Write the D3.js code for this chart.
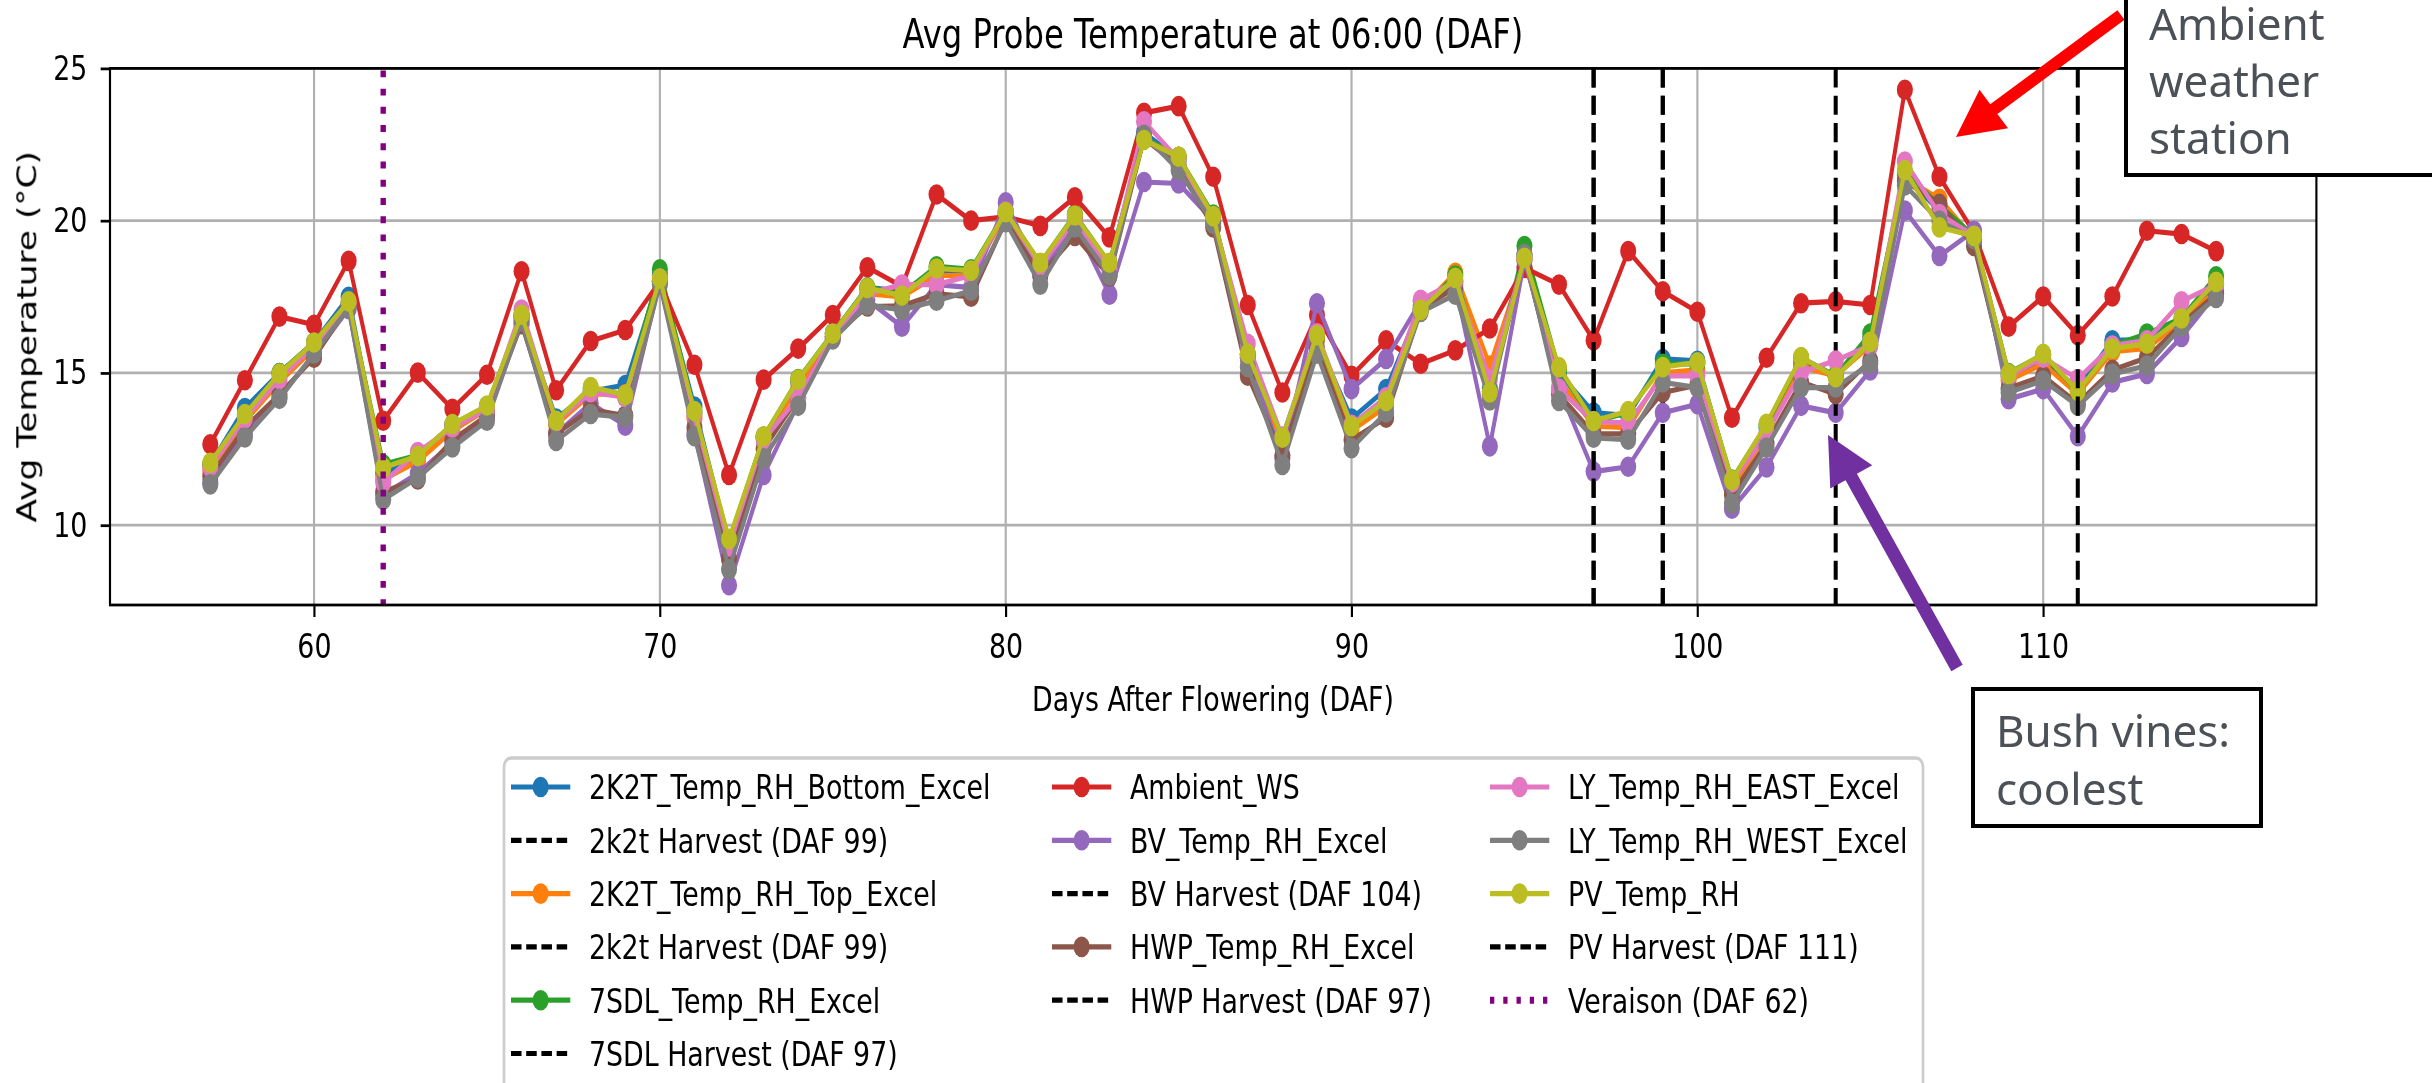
<!DOCTYPE html>
<html>
<head>
<meta charset="utf-8">
<script src="https://cdn.jsdelivr.net/npm/d3@7/dist/d3.min.js"></script>
<style>
  html, body { margin: 0; padding: 0; background: #ffffff; overflow: hidden; }
  svg { display: block; }
</style>
</head>
<body>
<svg id="chart" width="2432" height="1083"></svg>
<script>
// ---- data: average probe temperature at 06:00 by days after flowering ----
const days = [57, 58, 59, 60, 61, 62, 63, 64, 65, 66, 67, 68, 69, 70, 71, 72, 73, 74, 75, 76,
  77, 78, 79, 80, 81, 82, 83, 84, 85, 86, 87, 88, 89, 90, 91, 92, 93, 94, 95, 96,
  97, 98, 99, 100, 101, 102, 103, 104, 105, 106, 107, 108, 109, 110, 111, 112, 113, 114, 115];

const k2tBottom = [12.0, 13.85, 15.0, 16.0, 17.5, 11.7, 12.2, 13.3, 13.9, 16.9, 13.5, 14.4, 14.6, 18.2, 13.9, 9.4, 12.9, 14.7, 16.3, 17.8,
  17.7, 18.3, 18.3, 20.2, 18.6, 20.1, 18.6, 22.9, 22.0, 20.1, 15.6, 12.8, 16.1, 13.5, 14.47, 17.2, 18.0, 14.5, 18.9, 15.0,
  13.7, 13.6, 15.46, 15.4, 11.4, 13.2, 15.3, 14.9, 16.1, 21.5, 20.3, 19.4, 14.9, 15.4, 14.5, 16.07, 16.1, 16.7, 17.9];
const k2tTop = [11.8, 13.4, 14.7, 15.8, 17.2, 11.5, 12.1, 13.1, 13.8, 16.8, 13.3, 14.3, 14.3, 18.0, 13.5, 9.3, 12.9, 14.5, 16.2, 17.6,
  17.5, 18.2, 18.2, 20.2, 18.5, 20.0, 18.5, 22.7, 22.1, 20.0, 15.5, 12.7, 16.1, 13.1, 13.9, 17.1, 18.29, 15.24, 18.7, 14.8,
  13.25, 13.2, 15.0, 15.1, 11.2, 13.0, 15.2, 14.9, 15.9, 21.4, 20.72, 19.4, 14.75, 15.3, 14.3, 15.7, 15.8, 16.7, 17.7];
const sdl7 = [12.0, 13.6, 15.0, 16.0, 17.3, 12.0, 12.3, 13.3, 13.9, 16.9, 13.4, 14.5, 14.2, 18.4, 13.7, 9.5, 12.9, 14.8, 16.3, 17.8,
  17.6, 18.5, 18.4, 20.3, 18.6, 20.2, 18.6, 22.7, 22.1, 20.2, 15.6, 12.9, 16.2, 13.3, 14.1, 17.1, 18.2, 14.4, 19.17, 15.1,
  13.4, 13.7, 15.3, 15.3, 11.5, 13.3, 15.5, 14.9, 16.29, 21.6, 20.5, 19.5, 15.0, 15.6, 14.4, 15.9, 16.29, 16.8, 18.17];
const ambientWS = [12.66, 14.76, 16.85, 16.58, 18.68, 13.43, 15.01, 13.82, 14.94, 18.34, 14.43, 16.05, 16.41, 18.0, 15.27, 11.65, 14.78, 15.8, 16.9, 18.47,
  17.84, 20.86, 20.0, 20.13, 19.83, 20.77, 19.45, 23.54, 23.76, 21.44, 17.23, 14.36, 16.9, 14.91, 16.07, 15.3, 15.74, 16.46, 18.45, 17.9,
  16.07, 19.0, 17.68, 17.01, 13.53, 15.5, 17.29, 17.35, 17.23, 24.3, 21.44, 19.61, 16.52, 17.51, 16.24, 17.51, 19.67, 19.56, 19.0];
const bushVines = [11.4, 13.0, 14.2, 15.6, 17.1, 11.0, 11.7, 12.7, 13.5, 16.8, 13.0, 14.0, 13.27, 18.0, 13.0, 8.03, 11.65, 14.0, 16.13, 17.4,
  16.52, 17.9, 17.8, 20.6, 18.2, 19.9, 17.57, 21.27, 21.22, 20.0, 15.5, 12.2, 17.29, 14.47, 15.46, 17.35, 17.9, 12.59, 18.7, 14.5,
  11.76, 11.92, 13.69, 13.97, 10.54, 11.9, 13.92, 13.69, 15.08, 20.33, 18.84, 19.67, 14.14, 14.47, 12.92, 14.69, 14.97, 16.18, 17.6];
const hwp = [11.6, 13.2, 14.3, 15.5, 17.2, 11.1, 11.5, 12.8, 13.6, 16.6, 13.0, 13.8, 13.6, 18.0, 13.2, 8.9, 12.5, 14.2, 16.2, 17.18,
  17.2, 17.6, 17.5, 20.0, 18.2, 19.5, 18.17, 22.7, 21.8, 19.78, 14.91, 12.3, 15.8, 12.8, 13.53, 17.1, 17.8, 14.3, 18.8, 14.3,
  13.0, 13.0, 14.36, 14.6, 11.0, 12.7, 14.7, 14.3, 15.4, 21.3, 20.55, 19.17, 14.5, 14.9, 14.0, 15.1, 15.5, 16.6, 17.6];
const lyEast = [11.9, 13.5, 14.8, 15.9, 17.3, 11.4, 12.4, 13.2, 13.8, 17.08, 13.4, 14.37, 14.2, 18.1, 13.6, 9.3, 12.8, 14.2, 16.2, 17.6,
  17.9, 17.9, 18.2, 20.3, 18.5, 20.0, 18.4, 23.26, 22.0, 20.1, 15.96, 12.9, 16.3, 13.3, 14.2, 17.4, 18.0, 14.8, 18.8, 14.47,
  13.4, 13.36, 14.9, 14.91, 11.4, 13.0, 15.02, 15.41, 15.9, 21.94, 20.22, 19.5, 14.9, 15.5, 14.8, 15.9, 16.07, 17.35, 17.9];
const lyWest = [11.34, 12.88, 14.15, 15.64, 17.13, 10.84, 11.56, 12.55, 13.43, 16.7, 12.77, 13.65, 13.54, 17.9, 12.92, 8.55, 12.2, 13.92, 16.1, 17.23,
  17.07, 17.37, 17.7, 19.95, 17.9, 19.78, 18.2, 22.82, 21.66, 19.9, 15.2, 11.98, 15.63, 12.53, 13.7, 17.0, 17.57, 14.1, 18.9, 14.08,
  12.87, 12.81, 14.69, 14.52, 10.71, 12.55, 14.52, 14.52, 15.3, 21.16, 20.0, 19.39, 14.36, 14.75, 13.92, 14.97, 15.24, 16.52, 17.46];
const pv = [12.05, 13.65, 14.98, 16.0, 17.35, 11.89, 12.27, 13.32, 13.93, 16.91, 13.43, 14.54, 14.28, 18.1, 13.75, 9.55, 12.92, 14.78, 16.29, 17.79,
  17.54, 18.43, 18.36, 20.28, 18.62, 20.17, 18.62, 22.65, 22.1, 20.15, 15.63, 12.87, 16.24, 13.25, 14.08, 17.07, 18.12, 14.36, 18.78, 15.19,
  13.42, 13.75, 15.19, 15.35, 11.48, 13.33, 15.52, 14.86, 16.02, 21.66, 19.78, 19.5, 14.97, 15.63, 14.41, 15.8, 15.96, 16.79, 17.99];

// plotting order (legend order): series and marker lines interleaved
const seriesNames = ["2K2T_Temp_RH_Bottom_Excel", "2k2t Harvest (DAF 99)", "2K2T_Temp_RH_Top_Excel", "2k2t Harvest (DAF 99)",
  "7SDL_Temp_RH_Excel", "7SDL Harvest (DAF 97)", "Ambient_WS", "BV_Temp_RH_Excel", "BV Harvest (DAF 104)",
  "HWP_Temp_RH_Excel", "HWP Harvest (DAF 97)", "LY_Temp_RH_EAST_Excel", "LY_Temp_RH_WEST_Excel", "PV_Temp_RH",
  "PV Harvest (DAF 111)", "Veraison (DAF 62)"];
const seriesValues = [k2tBottom, 99, k2tTop, 99, sdl7, 97, ambientWS, bushVines, 104, hwp, 97, lyEast, lyWest, pv, 111, 62];
const seriesKinds = ["series", "harvest", "series", "harvest", "series", "harvest", "series", "series", "harvest",
  "series", "harvest", "series", "series", "series", "harvest", "veraison"];
const palette = ["#1f77b4", "#000000", "#ff7f0e", "#000000", "#2ca02c", "#000000", "#d62728", "#9467bd", "#000000",
  "#8c564b", "#000000", "#e377c2", "#7f7f7f", "#bcbd22", "#000000", "#800080"];

const xTicks = [60, 70, 80, 90, 100, 110];
const yTicks = [10, 15, 20, 25];

// ---- layout ----
const SX = 0.78;               // the chart is drawn horizontally squeezed
const PT = 3.44;               // pixels per point
const FS = 34.4;               // base font size
const plot = { left: 110 / SX, right: 2316.4 / SX, top: 68.4, bottom: 605 };

const svg = d3.select("#chart");
svg.append("rect").attr("width", 2432).attr("height", 1083).attr("fill", "#ffffff");

// slight softening of the chart body
const defs = svg.append("defs");
defs.append("filter").attr("id", "soft").attr("x", "-2%").attr("y", "-2%").attr("width", "104%").attr("height", "104%")
  .append("feGaussianBlur").attr("stdDeviation", 0.55);

const g = svg.append("g").attr("filter", "url(#soft)")
  .append("g").attr("transform", `scale(${SX},1)`)
  .style("font-family", "'DejaVu Sans', sans-serif");

const x = d3.scaleLinear().domain([54.1, 117.9]).range([plot.left, plot.right]);
const y = d3.scaleLinear().domain([7.38, 25.0]).range([plot.bottom, plot.top]);

// grid
const grid = g.append("g");
grid.selectAll("line.gx").data(xTicks).join("line")
  .attr("x1", d => x(d)).attr("x2", d => x(d))
  .attr("y1", plot.top).attr("y2", plot.bottom)
  .attr("stroke", "#b0b0b0").attr("stroke-width", 0.8 * PT);
grid.selectAll("line.gy").data(yTicks).join("line")
  .attr("x1", plot.left).attr("x2", plot.right)
  .attr("y1", d => y(d)).attr("y2", d => y(d))
  .attr("stroke", "#b0b0b0").attr("stroke-width", 0.8 * PT);

// series and reference lines
const clipId = "plotclip";
g.append("clipPath").attr("id", clipId).append("rect")
  .attr("x", plot.left).attr("y", plot.top)
  .attr("width", plot.right - plot.left).attr("height", plot.bottom - plot.top);
const marks = g.append("g").attr("clip-path", `url(#${clipId})`);

const line = d3.line().x(d => x(d[0])).y(d => y(d[1]));

seriesNames.forEach((name, i) => {
  const kind = seriesKinds[i];
  const col = palette[i];
  if (kind === "series") {
    const pts = days.map((d, j) => [d, seriesValues[i][j]]);
    const s = marks.append("g");
    s.append("path").datum(pts).attr("d", line)
      .attr("fill", "none").attr("stroke", col)
      .attr("stroke-width", 1.5 * PT).attr("stroke-linejoin", "round");
    s.selectAll("circle").data(pts).join("circle")
      .attr("cx", d => x(d[0])).attr("cy", d => y(d[1]))
      .attr("r", 10.3).attr("fill", col);
  } else if (kind === "harvest") {
    marks.append("line")
      .attr("x1", x(seriesValues[i])).attr("x2", x(seriesValues[i]))
      .attr("y1", plot.top).attr("y2", plot.bottom)
      .attr("stroke", col).attr("stroke-width", 1.5 * PT)
      .attr("stroke-dasharray", `${3.7 * 1.5 * PT},${1.6 * 1.5 * PT}`);
  } else {
    marks.append("line")
      .attr("x1", x(seriesValues[i])).attr("x2", x(seriesValues[i]))
      .attr("y1", plot.top + 2).attr("y2", plot.bottom)
      .attr("stroke", col).attr("stroke-width", 2 * PT)
      .attr("stroke-dasharray", `${1 * 2 * PT},${1.65 * 2 * PT}`);
  }
});

// spines
g.append("rect")
  .attr("x", plot.left).attr("y", plot.top)
  .attr("width", plot.right - plot.left).attr("height", plot.bottom - plot.top)
  .attr("fill", "none").attr("stroke", "#000").attr("stroke-width", 0.8 * PT);

// axes
const xAxis = g.append("g").attr("transform", `translate(0,${plot.bottom})`)
  .call(d3.axisBottom(x).tickValues(xTicks).tickFormat(d3.format("d")).tickSize(12).tickPadding(17));
const yAxis = g.append("g").attr("transform", `translate(${plot.left},0)`)
  .call(d3.axisLeft(y).tickValues(yTicks).tickFormat(d3.format("d")).tickSize(12).tickPadding(17));
[xAxis, yAxis].forEach(a => {
  a.select(".domain").remove();
  a.selectAll(".tick line").attr("stroke", "#000").attr("stroke-width", 0.8 * PT);
  a.selectAll(".tick text").attr("fill", "#000")
    .style("font-size", FS + "px").style("font-family", "'DejaVu Sans', sans-serif");
});

// title and axis labels
g.append("text").attr("x", 1213 / SX).attr("y", 47.8)
  .attr("text-anchor", "middle").style("font-size", (FS * 1.2) + "px").attr("fill", "#000")
  .text("Avg Probe Temperature at 06:00 (DAF)");
g.append("text").attr("x", 1213 / SX).attr("y", 711)
  .attr("text-anchor", "middle").style("font-size", FS + "px").attr("fill", "#000")
  .text("Days After Flowering (DAF)");
g.append("text").attr("transform", `translate(${36 / SX},${(plot.top + plot.bottom) / 2}) rotate(-90)`)
  .attr("text-anchor", "middle").style("font-size", FS + "px").attr("fill", "#000")
  .text("Avg Temperature (°C)");

// legend (three columns, filled column by column)
const legend = g.append("g");
legend.append("rect")
  .attr("x", 504 / SX).attr("y", 758)
  .attr("width", (1923 - 504) / SX).attr("height", 360)
  .attr("rx", 9).attr("ry", 9)
  .attr("fill", "#ffffff").attr("fill-opacity", 0.8)
  .attr("stroke", "#cccccc").attr("stroke-width", PT);
const colStarts = [511 / SX, 1052 / SX, 1490 / SX];
const perCol = [6, 5, 5];
const rowY0 = 787, rowStep = 53.3, handleLen = 76, textGap = 24;
let idx = 0;
perCol.forEach((n, c) => {
  for (let r = 0; r < n; r++, idx++) {
    const cy = rowY0 + r * rowStep;
    const hx = colStarts[c];
    const kind = seriesKinds[idx];
    const col = palette[idx];
    const item = legend.append("g");
    const ln = item.append("line").attr("x1", hx).attr("x2", hx + handleLen)
      .attr("y1", cy).attr("y2", cy).attr("stroke", col);
    if (kind === "series") {
      ln.attr("stroke-width", 1.5 * PT);
      item.append("circle").attr("cx", hx + handleLen / 2).attr("cy", cy).attr("r", 10.3).attr("fill", col);
    } else if (kind === "harvest") {
      ln.attr("stroke-width", 1.5 * PT).attr("stroke-dasharray", "13.5,6");
    } else {
      ln.attr("stroke-width", 2 * PT).attr("stroke-dasharray", "5.5,11.5");
    }
    item.append("text").attr("x", hx + handleLen + textGap).attr("y", cy + 12.5)
      .style("font-size", FS + "px").attr("fill", "#000").text(seriesNames[idx]);
  }
});

// ---- call-outs ----
function arrow(parent, tail, tip, shaftW, headLen, headW, color) {
  const dx = tip[0] - tail[0], dy = tip[1] - tail[1];
  const L = Math.hypot(dx, dy);
  const ux = dx / L, uy = dy / L, nx = -uy, ny = ux;
  const bx = tip[0] - ux * headLen, by = tip[1] - uy * headLen;
  const p = [
    [tail[0] + nx * shaftW / 2, tail[1] + ny * shaftW / 2],
    [bx + nx * shaftW / 2, by + ny * shaftW / 2],
    [bx + nx * headW / 2, by + ny * headW / 2],
    tip,
    [bx - nx * headW / 2, by - ny * headW / 2],
    [bx - nx * shaftW / 2, by - ny * shaftW / 2],
    [tail[0] - nx * shaftW / 2, tail[1] - ny * shaftW / 2]
  ];
  parent.append("polygon").attr("points", p.map(q => q.join(",")).join(" ")).attr("fill", color);
}

const notes = svg.append("g").style("font-family", "'Noto Sans', sans-serif");
arrow(notes, [2121, 15], [1956, 137], 12, 47, 48, "#ff0000");
arrow(notes, [1957, 668], [1828, 435], 13, 48, 48, "#7030a0");

function calloutBox(x0, y0, x1, y1, lines, baseY, step) {
  notes.append("rect").attr("x", x0).attr("y", y0).attr("width", x1 - x0).attr("height", y1 - y0)
    .attr("fill", "#ffffff").attr("stroke", "#000000").attr("stroke-width", 4);
  lines.forEach((t, i) => {
    notes.append("text").attr("x", x0 + 23).attr("y", baseY + i * step)
      .style("font-size", "44px").attr("fill", "#4b5157").text(t);
  });
}
calloutBox(2126, -10, 2450, 175, ["Ambient", "weather", "station"], 40, 57);
calloutBox(1973, 689, 2261, 826, ["Bush vines:", "coolest"], 747, 58);
</script>
</body>
</html>
